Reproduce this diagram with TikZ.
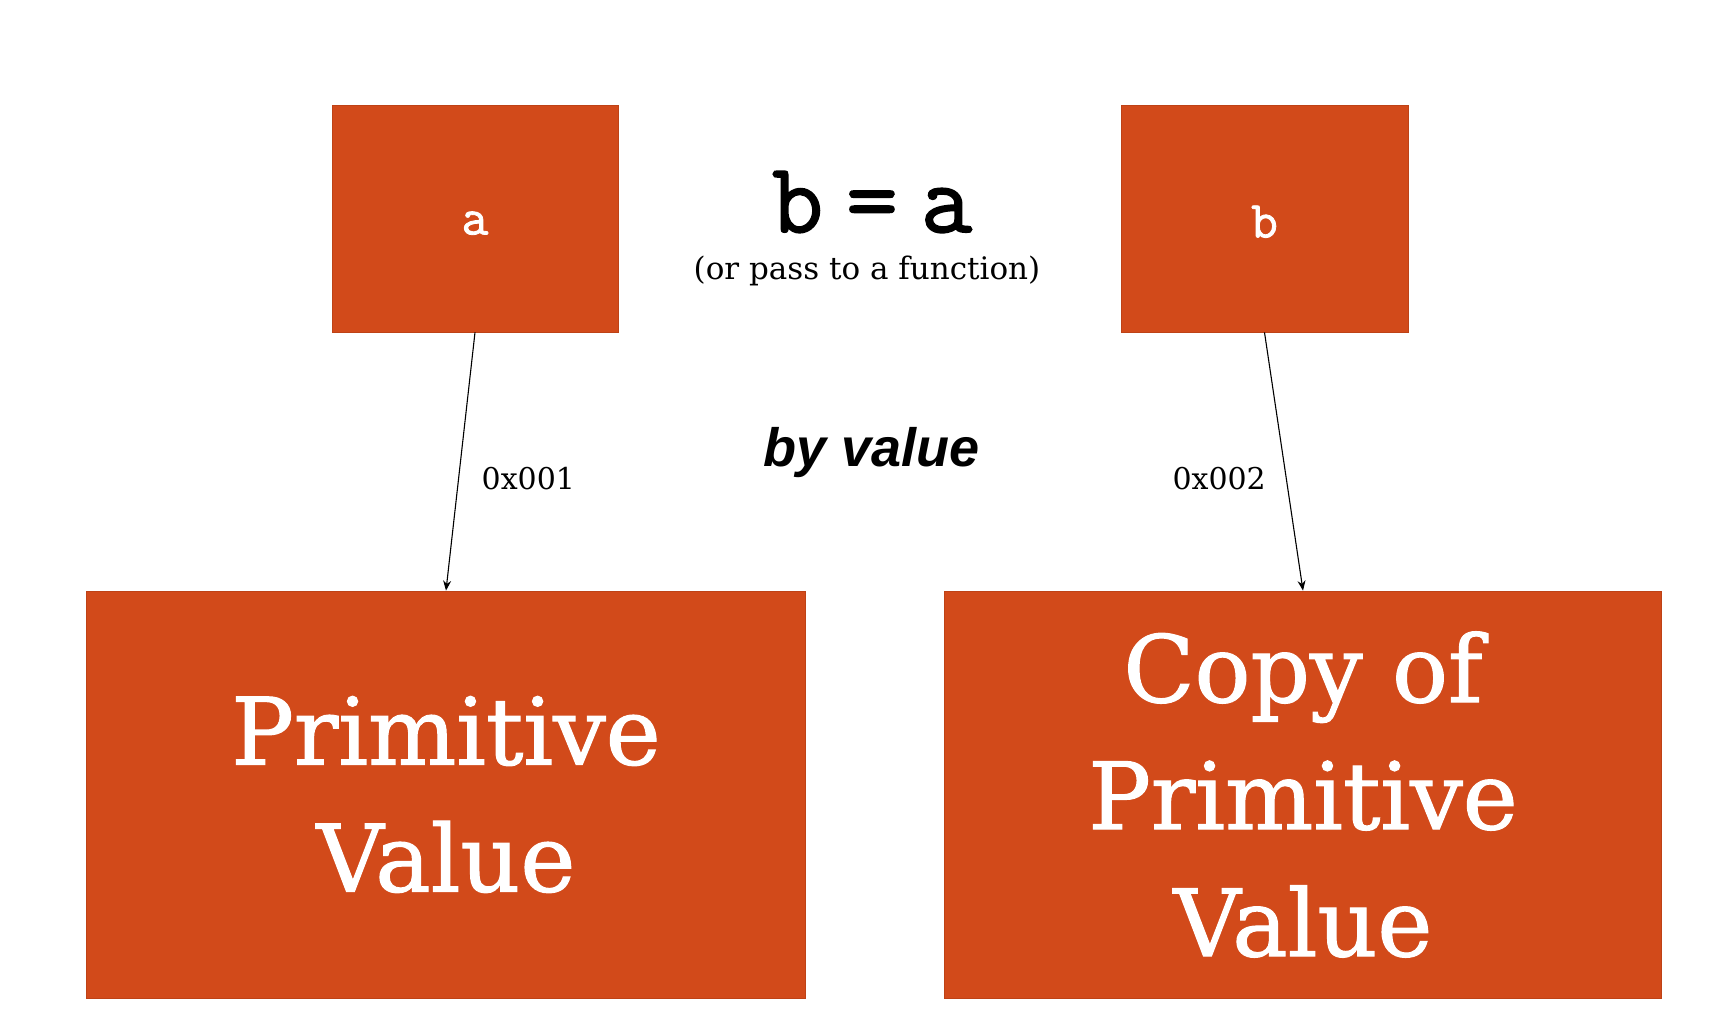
\documentclass[tikz,border=0pt]{standalone}
\usepackage{fontspec}
\usetikzlibrary{arrows.meta}
\setmainfont{DejaVu Serif}
\newfontfamily\heavyserif{DejaVu Serif}[FakeBold=1.2]
\newfontfamily\slabmono{Latin Modern Mono}[FakeBold=1.6]
\newfontfamily\sansbi{Liberation Sans}
\definecolor{boxfill}{RGB}{210,74,26}
\definecolor{boxedge}{RGB}{190,66,22}
\begin{document}
\begin{tikzpicture}[x=1pt,y=-1pt,
  box/.style={rectangle,fill=boxfill,draw=boxedge,line width=0.8pt,inner sep=0pt,text=white,align=center},
  ptr/.style={line width=1.1pt,-{Stealth[length=10pt,width=8pt]}},
  lbl/.style={inner sep=0pt}]
\useasboundingbox (0,0) rectangle (1717,1015);
\fill[white] (0,0) rectangle (1717,1015);
\node[box,minimum width=286pt,minimum height=227pt,font=\slabmono\fontsize{52}{58}\selectfont] (a) at (475,218.5) {\raisebox{-16pt}[0pt][0pt]{a}};
\node[box,minimum width=287pt,minimum height=227pt,font=\slabmono\fontsize{52}{58}\selectfont] (b) at (1264.5,218.5) {\raisebox{-19pt}[0pt][0pt]{b}};
\node[box,minimum width=719pt,minimum height=407pt,font=\heavyserif\fontsize{93}{127}\selectfont] (prim) at (446,794.5) {Primitive\\Value};
\node[box,minimum width=717pt,minimum height=407pt,font=\heavyserif\fontsize{93}{127}\selectfont] (copy) at (1303,794.5) {Copy of\\Primitive\\Value};
\node[lbl,font=\slabmono\fontsize{100}{110}\selectfont] (eq) at (872,202) {b\hspace{23pt}=\hspace{23pt}a};
\node[lbl,font=\fontsize{31}{36}\selectfont] (sub) at (867,271) {(or pass to a function)};
\node[lbl,font=\sansbi\bfseries\itshape\fontsize{54}{60}\selectfont] (byv) at (872,453) {by value};
\draw[ptr] (a.south) -- (prim.north);
\draw[ptr] (b.south) -- (copy.north);
\node[lbl,anchor=west,font=\fontsize{30}{34}\selectfont] (l1) at (481.5,479) {0x001};
\node[lbl,anchor=east,font=\fontsize{30}{34}\selectfont] (l2) at (1266,479) {0x002};
\end{tikzpicture}
\end{document}
